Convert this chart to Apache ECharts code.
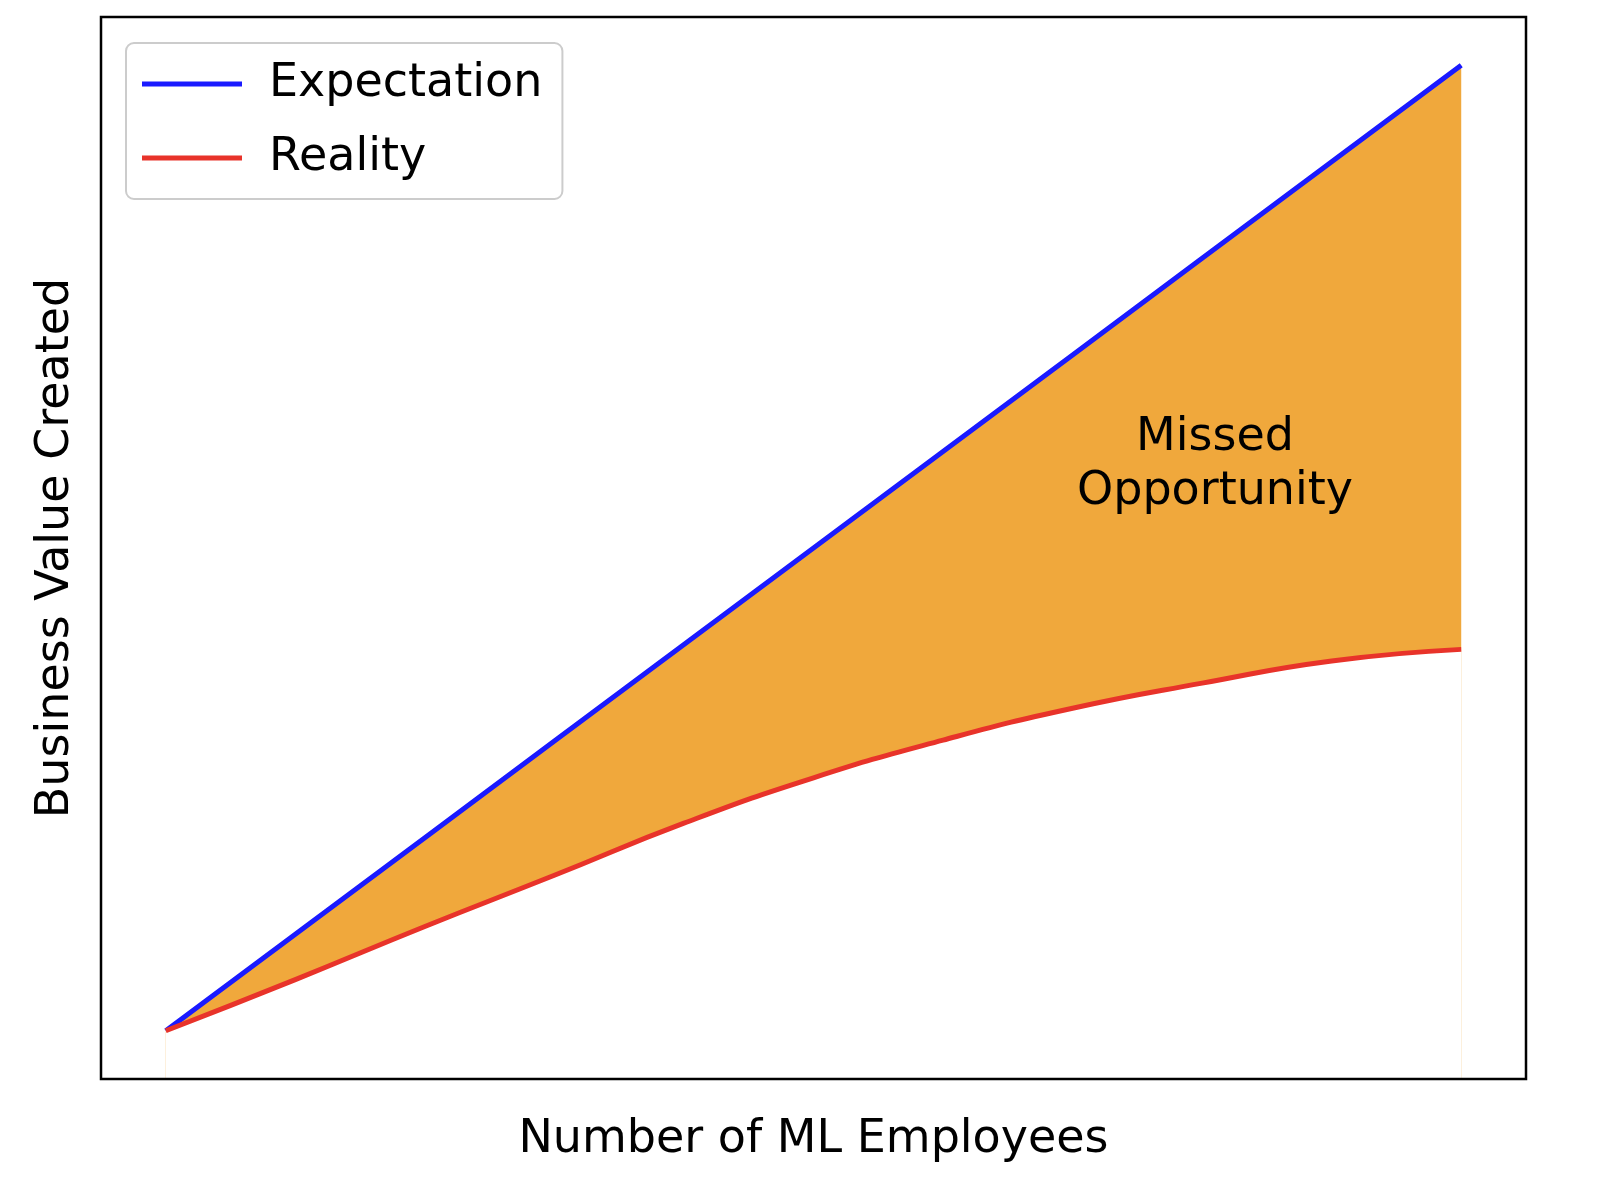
<!DOCTYPE html>
<html>
<head>
<meta charset="utf-8">
<script src="https://cdn.jsdelivr.net/npm/echarts@6/dist/echarts.min.js"></script>
<style>html,body{margin:0;padding:0;background:#fff}#chart{width:1600px;height:1178px}</style>
</head>
<body>
<div id="chart"></div>
<script>
// employees (arbitrary units) and value created
const employees = [0, 1, 2, 3, 4, 5, 6, 7, 8, 9, 10];
const expectation = [0, 1, 2, 3, 4, 5, 6, 7, 8, 9, 10];
const reality = [0, 0.53, 1.08, 1.61, 2.15, 2.62, 3.01, 3.34, 3.6, 3.83, 3.95];

const font = "DejaVu Sans";
const gridBox = { left: 101, top: 17, width: 1425, height: 1062 };

let chart = echarts.init(document.getElementById("chart"));
chart.setOption({
	animation: false,
	grid: {
		left: gridBox.left,
		top: gridBox.top,
		width: gridBox.width,
		height: gridBox.height,
	},
	legend: {
		left: 126,
		top: 43,
		orient: "vertical",
		data: ["Expectation", "Reality"],
		icon: "rect",
		itemWidth: 100,
		itemHeight: 5,
		itemGap: 28,
		padding: [18, 20, 18, 16],
		borderColor: "#ccc",
		borderWidth: 2,
		borderRadius: 8,
		textStyle: { fontFamily: font, fontSize: 46, color: "#000", padding: [0, 0, 0, 22] },
	},
	xAxis: {
		type: "value",
		min: -0.5,
		max: 10.5,
		name: "Number of ML Employees",
		nameLocation: "middle",
		nameGap: 38,
		nameTextStyle: { fontFamily: font, fontSize: 46, color: "#000" },
		axisLine: { show: false },
		axisTick: { show: false },
		axisLabel: { show: false },
		splitLine: { show: false },
	},
	yAxis: {
		type: "value",
		min: -0.5,
		max: 10.5,
		name: "Business Value Created",
		nameLocation: "middle",
		nameGap: 22,
		nameTextStyle: { fontFamily: font, fontSize: 46, color: "#000" },
		axisLine: { show: false },
		axisTick: { show: false },
		axisLabel: { show: false },
		splitLine: { show: false },
	},
	series: [
		{
			name: "Expectation",
			type: "line",
			data: employees.map((x, i) => [x, expectation[i]]),
			showSymbol: false,
			lineStyle: { color: "#1a1aff", width: 5 },
			itemStyle: { color: "#1a1aff" },
			areaStyle: { color: "#f0a83c", opacity: 1, origin: "start" },
			z: 3,
		},
		{
			name: "Reality",
			type: "line",
			smooth: true,
			data: employees.map((x, i) => [x, reality[i]]),
			showSymbol: false,
			lineStyle: { color: "#e8332a", width: 5 },
			itemStyle: { color: "#e8332a" },
			areaStyle: { color: "#ffffff", opacity: 1, origin: "start" },
			z: 4,
		},
	],
	graphic: [
		{
			type: "rect",
			z: 100,
			shape: { x: gridBox.left, y: gridBox.top, width: gridBox.width, height: gridBox.height },
			style: { fill: null, stroke: "#000", lineWidth: 2.5 },
		},
		{
			type: "text",
			z: 100,
			x: 1215,
			y: 465,
			style: {
				text: "Missed\nOpportunity",
				font: "46px 'DejaVu Sans'",
				fill: "#000",
				align: "center",
				verticalAlign: "middle",
				lineHeight: 54,
			},
		},
	],
});
</script>
</body>
</html>
